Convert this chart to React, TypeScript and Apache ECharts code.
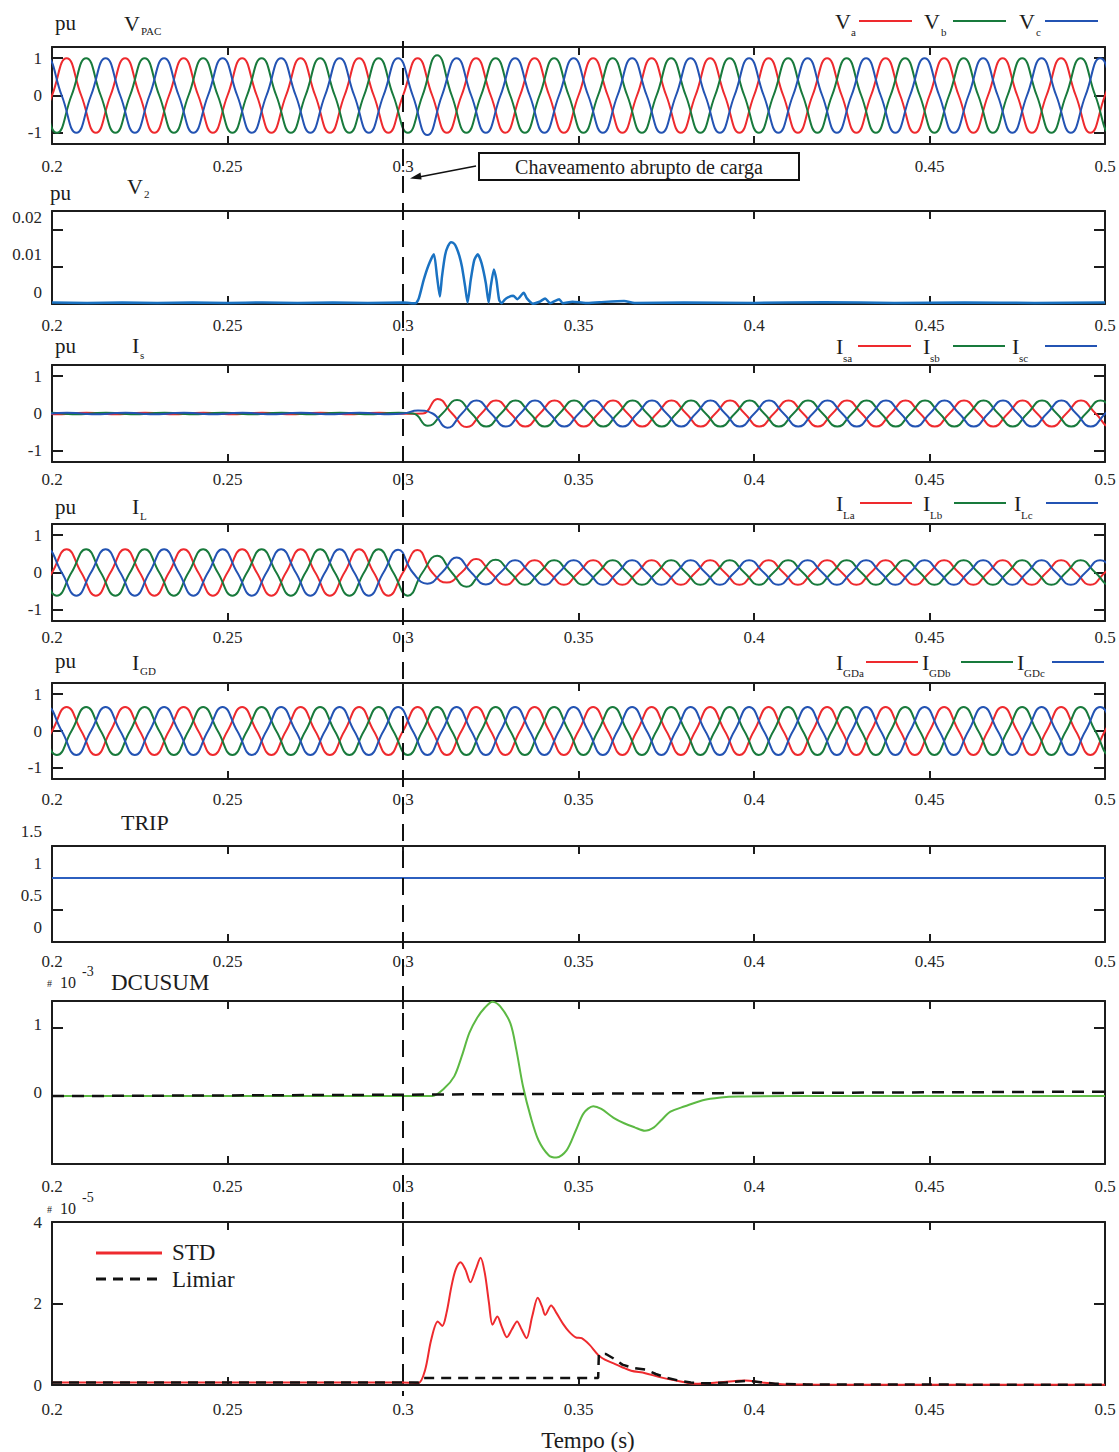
import React, { useEffect, useRef } from "react";
import * as echarts from "echarts";

// ---------------- data ----------------
const HALF_CYCLE = 1 / 120; // s, 60 Hz system
const xTickValues = [0.25, 0.3, 0.35, 0.4, 0.45];
const xLabelValues = [0.2, 0.25, 0.3, 0.35, 0.4, 0.45, 0.5];

// time (s) of the first listed half-cycle extremum for phases a, b, c
const firstExtremumGrid = [0.1875, 0.19306, 0.18194];
const firstExtremumIs = [0.1765, 0.18206, 0.17094];

// per half-cycle extrema (pu)
const vpacA = [1,-1,1,-1,1,-1,1,-1,1,-1,1,-1,1,-1,1,-1,1,-1,1,-1,1,-1,1,-1,1,-1,1,-1,1,-1,1,-1,1,-1,1,-1,1,-1,1,-1,1];
const vpacB = [1,-1,1,-1,1,-1,1,-1,1,-1,1,-1,1,-1,1.08,-1,1,-1,1,-1,1,-1,1,-1,1,-1,1,-1,1,-1,1,-1,1,-1,1,-1,1,-1,1,-1,1];
const vpacC = [1,-1,1,-1,1,-1,1,-1,1,-1,1,-1,1,-1,1,-1.06,1,-1,1,-1,1,-1,1,-1,1,-1,1,-1,1,-1,1,-1,1,-1,1,-1,1,-1,1,-1,1];

const isA = [0.02,-0.02,0.02,-0.02,0.02,-0.02,0.02,-0.02,0.02,-0.02,0.02,-0.02,0.02,-0.02,0.02,-0.01,0.39,-0.36,0.35,-0.35,0.35,-0.35,0.35,-0.35,0.35,-0.35,0.35,-0.35,0.35,-0.35,0.35,-0.35,0.35,-0.35,0.35,-0.35,0.35,-0.35,0.35,-0.35,0.35];
const isB = [0.02,-0.02,0.02,-0.02,0.02,-0.02,0.02,-0.02,0.02,-0.02,0.02,-0.02,0.02,-0.02,0.02,-0.33,0.36,-0.35,0.35,-0.35,0.35,-0.35,0.35,-0.35,0.35,-0.35,0.35,-0.35,0.35,-0.35,0.35,-0.35,0.35,-0.35,0.35,-0.35,0.35,-0.35,0.35,-0.35,0.35];
const isC = [0.02,-0.02,0.02,-0.02,0.02,-0.02,0.02,-0.02,0.02,-0.02,0.02,-0.02,0.02,-0.02,0.02,-0.02,0.08,-0.38,0.35,-0.35,0.35,-0.35,0.35,-0.35,0.35,-0.35,0.35,-0.35,0.35,-0.35,0.35,-0.35,0.35,-0.35,0.35,-0.35,0.35,-0.35,0.35,-0.35,0.35];

const ilA = [0.62,-0.62,0.62,-0.62,0.62,-0.62,0.62,-0.62,0.62,-0.62,0.62,-0.62,0.62,-0.62,0.6,-0.27,0.36,-0.33,0.33,-0.33,0.33,-0.33,0.33,-0.33,0.33,-0.33,0.33,-0.33,0.33,-0.33,0.33,-0.33,0.33,-0.33,0.33,-0.33,0.33,-0.33,0.33,-0.33,0.33];
const ilB = [0.62,-0.62,0.62,-0.62,0.62,-0.62,0.62,-0.62,0.62,-0.62,0.62,-0.62,0.62,-0.62,0.45,-0.38,0.34,-0.33,0.33,-0.33,0.33,-0.33,0.33,-0.33,0.33,-0.33,0.33,-0.33,0.33,-0.33,0.33,-0.33,0.33,-0.33,0.33,-0.33,0.33,-0.33,0.33,-0.33,0.33];
const ilC = [0.62,-0.62,0.62,-0.62,0.62,-0.62,0.62,-0.62,0.62,-0.62,0.62,-0.62,0.62,-0.62,0.61,-0.3,0.4,-0.32,0.33,-0.33,0.33,-0.33,0.33,-0.33,0.33,-0.33,0.33,-0.33,0.33,-0.33,0.33,-0.33,0.33,-0.33,0.33,-0.33,0.33,-0.33,0.33,-0.33,0.33];

const igdA = [0.65,-0.65,0.65,-0.65,0.65,-0.65,0.65,-0.65,0.65,-0.65,0.65,-0.65,0.65,-0.65,0.65,-0.65,0.65,-0.65,0.65,-0.65,0.65,-0.65,0.65,-0.65,0.65,-0.65,0.65,-0.65,0.65,-0.65,0.65,-0.65,0.65,-0.65,0.65,-0.65,0.65,-0.65,0.65,-0.65,0.65];
const igdB = [0.65,-0.65,0.65,-0.65,0.65,-0.65,0.65,-0.65,0.65,-0.65,0.65,-0.65,0.65,-0.65,0.65,-0.65,0.65,-0.65,0.65,-0.65,0.65,-0.65,0.65,-0.65,0.65,-0.65,0.65,-0.65,0.65,-0.65,0.65,-0.65,0.65,-0.65,0.65,-0.65,0.65,-0.65,0.65,-0.65,0.65];
const igdC = [0.65,-0.65,0.65,-0.65,0.65,-0.65,0.65,-0.65,0.65,-0.65,0.65,-0.65,0.65,-0.65,0.65,-0.65,0.65,-0.65,0.65,-0.65,0.65,-0.65,0.65,-0.65,0.65,-0.65,0.65,-0.65,0.65,-0.65,0.65,-0.65,0.65,-0.65,0.65,-0.65,0.65,-0.65,0.65,-0.65,0.65];

// V2 (pu)  [t, value]
const v2Points = [[0.2,0.0004],[0.21,0.0003],[0.22,0.0004],[0.23,0.0003],[0.24,0.0004],[0.25,0.0003],[0.26,0.0004],[0.27,0.0003],[0.28,0.0004],[0.29,0.0003],[0.3,0.0004],[0.3036,0.0002],[0.3045,0.0015],[0.3059,0.0065],[0.3073,0.0105],[0.3088,0.0134],[0.3097,0.0073],[0.3105,0.002],[0.3111,0.0073],[0.312,0.0132],[0.3128,0.0155],[0.3137,0.0166],[0.3146,0.0162],[0.3153,0.015],[0.3161,0.0128],[0.3168,0.01],[0.3177,0.0047],[0.3184,0.0004],[0.3193,0.0065],[0.3203,0.0118],[0.3213,0.0134],[0.3224,0.0109],[0.3236,0.0056],[0.3244,0.0004],[0.325,0.0047],[0.3259,0.0093],[0.3266,0.0065],[0.3274,0.0011],[0.3281,0.0002],[0.329,0.0012],[0.3299,0.0018],[0.3314,0.0022],[0.3326,0.0013],[0.3344,0.003],[0.3353,0.0015],[0.337,0.0001],[0.3389,0.0006],[0.3405,0.0015],[0.3419,0.0002],[0.3445,0.0013],[0.3455,0.0002],[0.3483,0.0006],[0.352,0.0003],[0.356,0.0005],[0.363,0.0008],[0.366,0.0003],[0.38,0.0004],[0.4,0.0003],[0.42,0.0005],[0.44,0.0003],[0.46,0.0004],[0.48,0.0003],[0.5,0.0004]];

const tripPoints = [[0.2,1],[0.5,1]];

// DCUSUM (x 1e-3)
const dcusumPoints = [[0.2,0],[0.25,0],[0.3,0],[0.3084,0],[0.3117,0.11],[0.3146,0.29],[0.3167,0.58],[0.3189,0.93],[0.3211,1.15],[0.3233,1.3],[0.3255,1.39],[0.3277,1.32],[0.3306,1.07],[0.3323,0.68],[0.3342,0.14],[0.3364,-0.31],[0.3386,-0.65],[0.3415,-0.87],[0.3437,-0.905],[0.3466,-0.8],[0.3493,-0.5],[0.3515,-0.25],[0.3542,-0.15],[0.3565,-0.19],[0.36,-0.32],[0.363,-0.4],[0.366,-0.46],[0.3689,-0.51],[0.3715,-0.46],[0.3735,-0.36],[0.3762,-0.23],[0.3803,-0.15],[0.3854,-0.06],[0.3905,-0.02],[0.3956,-0.005],[0.41,0],[0.45,0],[0.5,0]];
const dcusumThreshold = [[0.2,0],[0.3,0.02],[0.35,0.035],[0.4,0.045],[0.45,0.055],[0.5,0.065]];

// STD and Limiar (x 1e-5)
const stdPoints = [[0.2,0.06],[0.25,0.06],[0.3,0.06],[0.3044,0.05],[0.3063,0.37],[0.308,1.1],[0.3099,1.56],[0.3112,1.45],[0.3124,1.77],[0.3138,2.42],[0.315,2.83],[0.3164,3.01],[0.3178,2.83],[0.3192,2.52],[0.3207,2.83],[0.3221,3.12],[0.3233,2.75],[0.3245,2.01],[0.3255,1.48],[0.3269,1.68],[0.3281,1.44],[0.3296,1.17],[0.331,1.36],[0.3325,1.56],[0.3338,1.36],[0.3352,1.15],[0.3368,1.68],[0.3384,2.14],[0.3396,1.93],[0.3405,1.72],[0.3422,1.95],[0.3437,1.77],[0.3456,1.5],[0.3473,1.31],[0.3492,1.17],[0.3509,1.15],[0.3531,0.99],[0.3556,0.74],[0.3575,0.62],[0.36,0.53],[0.3626,0.43],[0.365,0.35],[0.369,0.29],[0.3728,0.2],[0.3771,0.12],[0.3834,0.03],[0.3894,0.06],[0.3976,0.11],[0.4016,0.07],[0.4078,0.02],[0.4158,0.01],[0.45,0.005],[0.5,0.005]];
const limiarPoints = [[0.2,0.06],[0.3045,0.06],[0.3058,0.17],[0.3556,0.17],[0.3558,0.76],[0.3578,0.76],[0.36,0.65],[0.3625,0.5],[0.3655,0.42],[0.369,0.38],[0.372,0.27],[0.375,0.18],[0.378,0.12],[0.382,0.06],[0.386,0.04],[0.392,0.06],[0.398,0.1],[0.402,0.07],[0.406,0.03],[0.415,0.015],[0.45,0.01],[0.5,0.005]];

// ---------------- styling / layout ----------------
const FONT = "'Liberation Serif', 'Times New Roman', serif";
const INK = "#1c1c1c";
const LABEL = "#262626";
const RED = "#ee2a2e";
const GREEN = "#187a3c";
const BLUE = "#2353b3";
const GL = 52;
const GW = 1053;

const panels = [
  { top: 47, h: 97, yMin: -1.3, yMax: 1.3, yTicks: [-1, 0, 1], yLab: [-1, 0, 1], shift: 0, xm: 14, xl: [0.2, 0.25, 0.3, 0.45, 0.5] },
  { top: 211, h: 93, yMin: 0, yMax: 0.025, yTicks: [0.01, 0.02], yLab: [0, 0.01, 0.02], shift: 12, xm: 13, xl: xLabelValues },
  { top: 365, h: 97, yMin: -1.3, yMax: 1.3, yTicks: [-1, 0, 1], yLab: [-1, 0, 1], shift: 0, xm: 9, xl: xLabelValues },
  { top: 524, h: 97, yMin: -1.3, yMax: 1.3, yTicks: [-1, 0, 1], yLab: [-1, 0, 1], shift: 0, xm: 8, xl: xLabelValues },
  { top: 683, h: 96, yMin: -1.3, yMax: 1.3, yTicks: [-1, 0, 1], yLab: [-1, 0, 1], shift: 0, xm: 12, xl: xLabelValues },
  { top: 846, h: 96, yMin: 0, yMax: 1.5, yTicks: [0.5, 1], yLab: [0, 0.5, 1, 1.5], shift: 15, xm: 11, xl: xLabelValues },
  { top: 1001, h: 163, yMin: -1, yMax: 1.4, yTicks: [0, 1], yLab: [0, 1], shift: 4, xm: 14, xl: xLabelValues },
  { top: 1222, h: 163, yMin: 0, yMax: 4, yTicks: [2], yLab: [0, 2, 4], shift: 0, xm: 16, xl: xLabelValues },
];

const fmt = (v: number) => String(Number(Number(v).toFixed(4)));

function extremaToPoints(start: number, ext: number[]) {
  const pts: number[][] = [];
  ext.forEach((v, i) => {
    const t = start + i * HALF_CYCLE;
    if (i > 0) pts.push([t - HALF_CYCLE / 2, 0]);
    pts.push([t, v]);
  });
  return pts;
}

function txt(x: number, y: number, s: string, size: number, align = "left", va = "middle", color = INK) {
  return {
    type: "text",
    x,
    y,
    z: 60,
    silent: true,
    style: {
      text: s,
      fontSize: size,
      fontFamily: FONT,
      fill: color,
      align,
      verticalAlign: va,
      textAlign: align,
      textVerticalAlign: va,
    },
  };
}

function seg(x1: number, y1: number, x2: number, y2: number, color: string, width = 2, dash?: number[]) {
  return {
    type: "line",
    z: 60,
    silent: true,
    shape: { x1, y1, x2, y2 },
    style: { stroke: color, lineWidth: width, lineDash: dash },
  };
}

function buildOption() {
  const grid = panels.map((p) => ({ left: GL, top: p.top, width: GW, height: p.h }));
  const xAxis: any[] = [];
  const yAxis: any[] = [];
  const shiftedLabels: any[] = [];
  panels.forEach((p, i) => {
    const axisLine = { onZero: false, lineStyle: { color: INK, width: 2 } };
    xAxis.push({
      gridIndex: i, type: "value", min: 0.2, max: 0.5, position: "bottom",
      axisLine,
      axisTick: { inside: true, length: 8, customValues: xTickValues, lineStyle: { color: INK, width: 2 } },
      axisLabel: {
        customValues: p.xl, margin: p.xm, fontSize: 17, color: LABEL, fontFamily: FONT, formatter: fmt,
        showMinLabel: true, showMaxLabel: true,
      },
      splitLine: { show: false },
    });
    xAxis.push({
      gridIndex: i, type: "value", min: 0.2, max: 0.5, position: "top",
      axisLine,
      axisTick: { inside: true, length: 8, customValues: xTickValues, lineStyle: { color: INK, width: 2 } },
      axisLabel: { show: false },
      splitLine: { show: false },
    });
    const shifted = p.shift > 0;
    yAxis.push({
      gridIndex: i, type: "value", min: p.yMin, max: p.yMax, position: "left",
      axisLine,
      axisTick: { inside: true, length: 11, customValues: p.yTicks, lineStyle: { color: INK, width: 2 } },
      axisLabel: shifted
        ? { show: false }
        : {
            customValues: p.yLab, margin: 10, fontSize: 17, color: LABEL, fontFamily: FONT, formatter: fmt,
            showMinLabel: true, showMaxLabel: true,
          },
      splitLine: { show: false },
    });
    yAxis.push({
      gridIndex: i, type: "value", min: p.yMin, max: p.yMax, position: "right",
      axisLine,
      axisTick: { inside: true, length: 11, customValues: p.yTicks, lineStyle: { color: INK, width: 2 } },
      axisLabel: { show: false },
      splitLine: { show: false },
    });
    // in the reference these panels print their tick labels a little above the ticks
    if (shifted) {
      p.yLab.forEach((v) => {
        const y = p.top + ((p.yMax - v) / (p.yMax - p.yMin)) * p.h - p.shift;
        shiftedLabels.push(txt(GL - 10, y, fmt(v), 17, "right", "middle", LABEL));
      });
    }
  });

  const line = (panel: number, data: number[][], color: string, width: number, extra: any = {}) => ({
    type: "line",
    xAxisIndex: panel * 2,
    yAxisIndex: panel * 2,
    data,
    showSymbol: false,
    symbol: "none",
    silent: true,
    lineStyle: { color, width, ...(extra.lineStyle || {}) },
    smooth: extra.smooth ?? false,
    z: extra.z ?? 2,
  });

  const g = firstExtremumGrid;
  const gi = firstExtremumIs;
  const series = [
    line(0, extremaToPoints(g[0], vpacA), RED, 2, { smooth: true }),
    line(0, extremaToPoints(g[1], vpacB), GREEN, 2, { smooth: true }),
    line(0, extremaToPoints(g[2], vpacC), BLUE, 2, { smooth: true }),
    line(1, v2Points, "#1a72c2", 2.5, { smooth: 0.2 }),
    line(2, extremaToPoints(gi[0], isA), RED, 2, { smooth: true }),
    line(2, extremaToPoints(gi[1], isB), GREEN, 2, { smooth: true }),
    line(2, extremaToPoints(gi[2], isC), BLUE, 2, { smooth: true }),
    line(3, extremaToPoints(g[0], ilA), RED, 2, { smooth: true }),
    line(3, extremaToPoints(g[1], ilB), GREEN, 2, { smooth: true }),
    line(3, extremaToPoints(g[2], ilC), BLUE, 2, { smooth: true }),
    line(4, extremaToPoints(g[0], igdA), RED, 2, { smooth: true }),
    line(4, extremaToPoints(g[1], igdB), GREEN, 2, { smooth: true }),
    line(4, extremaToPoints(g[2], igdC), BLUE, 2, { smooth: true }),
    line(5, tripPoints, "#2c5fbf", 2),
    line(6, dcusumPoints, "#5cb943", 2, { smooth: 0.3 }),
    line(6, dcusumThreshold, "#111", 2.5, { lineStyle: { type: [12, 8] }, z: 3 }),
    line(7, stdPoints, RED, 2, { smooth: 0.3 }),
    line(7, limiarPoints, "#111", 2.5, { lineStyle: { type: [10, 7] }, z: 3 }),
  ];

  const x03 = GL + ((0.3 - 0.2) / 0.3) * GW;

  const graphic: any[] = [
    ...shiftedLabels,
    // vertical dashed marker at t = 0.3 s
    seg(x03, 41, x03, 1396, "#111", 2, [17, 10]),
    // annotation
    {
      type: "rect", z: 70, silent: true,
      shape: { x: 479, y: 153, width: 320, height: 27 },
      style: { fill: "#fff", stroke: "#111", lineWidth: 2 },
    },
    { ...txt(639, 167, "Chaveamento abrupto de carga", 20, "center"), z: 71 },
    seg(476, 166, 419, 177, "#111", 1.5),
    {
      type: "polygon", z: 70, silent: true,
      shape: { points: [[410, 178.5], [420.5, 172.6], [421.6, 179.5]] },
      style: { fill: "#111" },
    },
    // panel 1
    txt(55, 23, "pu", 21), txt(124, 23, "V", 22), txt(141, 31, "PAC", 11),
    txt(835, 21, "V", 22), txt(851, 32, "a", 11), seg(859, 21, 912, 21, RED),
    txt(924, 21, "V", 22), txt(941, 32, "b", 11), seg(953, 21, 1006, 21, GREEN),
    txt(1019, 21, "V", 22), txt(1036, 32, "c", 11), seg(1045, 21, 1098, 21, BLUE),
    // panel 2
    txt(50, 193, "pu", 21), txt(127, 186, "V", 22), txt(144, 194, "2", 11),
    // panel 3
    txt(55, 346, "pu", 21), txt(132, 345, "I", 22), txt(140, 355, "s", 11),
    txt(836, 346, "I", 22), txt(843, 358, "sa", 11), seg(858, 346, 911, 346, RED),
    txt(923, 346, "I", 22), txt(930, 358, "sb", 11), seg(953, 346, 1005, 346, GREEN),
    txt(1012, 346, "I", 22), txt(1019, 358, "sc", 11), seg(1045, 346, 1097, 346, BLUE),
    // panel 4
    txt(55, 507, "pu", 21), txt(132, 506, "I", 22), txt(140, 516, "L", 11),
    txt(836, 503, "I", 22), txt(843, 515, "La", 11), seg(860, 503, 912, 503, RED),
    txt(923, 503, "I", 22), txt(930, 515, "Lb", 11), seg(954, 503, 1006, 503, GREEN),
    txt(1014, 503, "I", 22), txt(1021, 515, "Lc", 11), seg(1046, 503, 1098, 503, BLUE),
    // panel 5
    txt(55, 661, "pu", 21), txt(132, 662, "I", 22), txt(140, 671, "GD", 11),
    txt(836, 662, "I", 22), txt(843, 673, "GDa", 11), seg(866, 662, 918, 662, RED),
    txt(922, 662, "I", 22), txt(929, 673, "GDb", 11), seg(961, 662, 1013, 662, GREEN),
    txt(1017, 662, "I", 22), txt(1024, 673, "GDc", 11), seg(1052, 662, 1104, 662, BLUE),
    // panel 6
    txt(121, 822, "TRIP", 22),
    // panel 7
    txt(47, 983, "#", 10), txt(60, 982, "10", 16), txt(82, 971, "-3", 14), txt(111, 982, "DCUSUM", 23),
    // panel 8
    txt(47, 1209, "#", 10), txt(60, 1208, "10", 16), txt(82, 1197, "-5", 14),
    seg(96, 1253, 162, 1253, RED, 3), txt(172, 1252, "STD", 23),
    seg(96, 1279, 162, 1279, "#111", 3, [10, 7]), txt(172, 1279, "Limiar", 23),
    txt(588, 1440, "Tempo (s)", 23, "center"),
  ];

  return {
    animation: false,
    backgroundColor: "#fff",
    textStyle: { fontFamily: FONT },
    grid,
    xAxis,
    yAxis,
    series,
    graphic,
  };
}

export default function App() {
  const ref = useRef<HTMLDivElement>(null);
  useEffect(() => {
    document.body.style.margin = "0";
    const chart = echarts.init(ref.current as HTMLDivElement, undefined, { renderer: "svg" });
    chart.setOption(buildOption() as any);
    return () => chart.dispose();
  }, []);
  return (
    <div
      ref={ref}
      style={{ width: 1119, height: 1452, position: "absolute", left: 0, top: 0, background: "#fff" }}
    />
  );
}
